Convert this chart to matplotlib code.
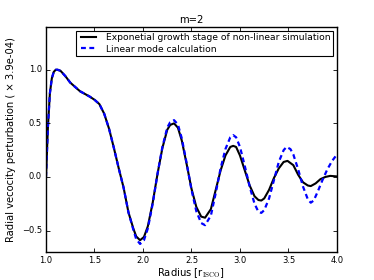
import matplotlib
matplotlib.use('Agg')
import matplotlib.pyplot as plt

# radius [r_ISCO] and normalised radial velocity
r_sim = [1.00, 1.02, 1.04, 1.06, 1.08, 1.10, 1.12, 1.15, 1.20, 1.25, 1.30, 1.35,
         1.40, 1.45, 1.50, 1.55, 1.60, 1.65, 1.70, 1.75, 1.80, 1.85, 1.90, 1.93,
         1.97, 2.01, 2.05, 2.10, 2.15, 2.20, 2.25, 2.28, 2.32, 2.36, 2.40, 2.45,
         2.50, 2.55, 2.60, 2.64, 2.70, 2.75, 2.80, 2.85, 2.90, 2.93, 2.96, 3.00,
         3.05, 3.10, 3.15, 3.19, 3.22, 3.25, 3.30, 3.35, 3.40, 3.45, 3.49, 3.55,
         3.60, 3.65, 3.70, 3.73, 3.78, 3.83, 3.88, 3.93, 4.00]
v_sim = [0.00, 0.47, 0.78, 0.92, 0.98, 1.00, 1.00, 0.99, 0.94, 0.88, 0.84, 0.80,
         0.775, 0.75, 0.72, 0.68, 0.59, 0.45, 0.27, 0.08, -0.10, -0.33, -0.48, -0.555,
         -0.59, -0.56, -0.46, -0.24, 0.03, 0.27, 0.44, 0.485, 0.50, 0.46, 0.34, 0.12,
         -0.11, -0.28, -0.37, -0.38, -0.30, -0.12, 0.06, 0.20, 0.28, 0.29, 0.28, 0.20,
         0.06, -0.08, -0.18, -0.215, -0.22, -0.20, -0.12, -0.01, 0.08, 0.14, 0.15, 0.11,
         0.02, -0.05, -0.08, -0.085, -0.06, -0.02, 0.00, 0.01, 0.005]

r_lin = [1.00, 1.02, 1.04, 1.06, 1.08, 1.10, 1.12, 1.15, 1.20, 1.25, 1.30, 1.35,
         1.40, 1.45, 1.50, 1.55, 1.60, 1.65, 1.70, 1.75, 1.80, 1.85, 1.90, 1.93,
         1.97, 2.01, 2.05, 2.10, 2.15, 2.20, 2.25, 2.28, 2.32, 2.36, 2.40, 2.45,
         2.50, 2.55, 2.60, 2.64, 2.70, 2.75, 2.80, 2.85, 2.90, 2.93, 2.96, 3.00,
         3.05, 3.10, 3.15, 3.19, 3.22, 3.25, 3.30, 3.35, 3.40, 3.45, 3.48, 3.52,
         3.55, 3.60, 3.65, 3.70, 3.73, 3.76, 3.80, 3.85, 3.90, 3.95, 4.00]
v_lin = [0.00, 0.47, 0.78, 0.92, 0.98, 1.00, 1.00, 0.99, 0.94, 0.88, 0.84, 0.80,
         0.775, 0.75, 0.72, 0.68, 0.59, 0.45, 0.27, 0.08, -0.10, -0.33, -0.49, -0.58,
         -0.625, -0.59, -0.48, -0.25, 0.03, 0.28, 0.46, 0.51, 0.53, 0.49, 0.36, 0.13,
         -0.12, -0.32, -0.43, -0.45, -0.36, -0.15, 0.08, 0.26, 0.37, 0.39, 0.37, 0.28,
         0.10, -0.09, -0.25, -0.325, -0.335, -0.31, -0.20, -0.03, 0.14, 0.25, 0.28, 0.26,
         0.21, 0.07, -0.09, -0.21, -0.24, -0.22, -0.14, -0.03, 0.07, 0.15, 0.21]

plt.style.use('classic')
plt.rcParams['font.family'] = ['DejaVu Sans']

fig = plt.figure(figsize=(3.74, 2.8), dpi=100)
ax = fig.add_axes([0.123, 0.1, 0.778, 0.804])

ax.plot(r_sim, v_sim, color='k', lw=1.5,
        label='Exponetial growth stage of non-linear simulation')
ax.plot(r_lin, v_lin, color='b', ls='--', lw=1.6, dashes=(3.5, 2.5),
        label='Linear mode calculation')

ax.set_xlim(1.0, 4.0)
ax.set_ylim(-0.7, 1.4)
ax.set_xticks([1.0, 1.5, 2.0, 2.5, 3.0, 3.5, 4.0])
ax.set_yticks([-0.5, 0.0, 0.5, 1.0])
ax.tick_params(labelsize=6, length=3, width=0.6, pad=3)
for s in ax.spines.values():
    s.set_linewidth(1.0)

ax.set_title('m=2', fontsize=7.2, pad=3)
ax.set_xlabel(r'Radius [r$_{\rm ISCO}$]', fontsize=7.2, labelpad=1)
ax.set_ylabel('Radial vecocity perturbation ( \u00d7 3.9e-04)', fontsize=7.2, labelpad=4)

leg = ax.legend(loc='upper right', fontsize=6.6, handlelength=2.2,
                borderpad=0.3, labelspacing=0.25, handletextpad=0.8,
                borderaxespad=0.4)
leg.get_frame().set_linewidth(0.8)

fig.savefig('out.png', dpi=100)
